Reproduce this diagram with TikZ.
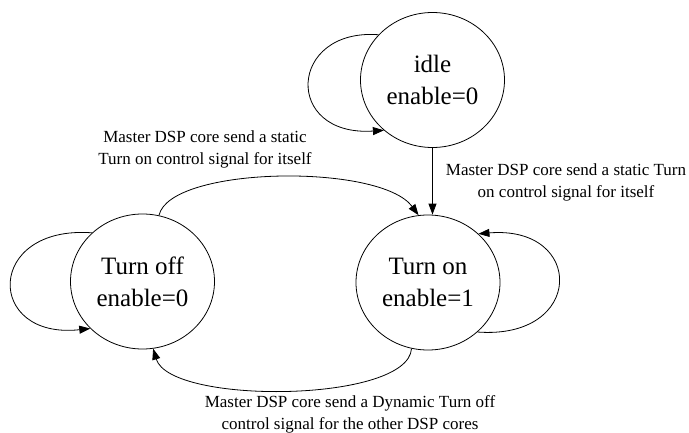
\documentclass[tikz,border=0pt]{standalone}
\usepackage{fontspec}
\setmainfont{Liberation Serif}
\usetikzlibrary{shapes.geometric,arrows.meta}
\tikzset{
  state/.style={draw, ellipse, line width=0.8pt, minimum width=144pt, minimum height=135pt,
    inner sep=0pt, align=center, font=\fontsize{25}{32}\selectfont},
  trans/.style={line width=0.8pt, -{Triangle[length=11pt,width=8pt]}},
  lbl/.style={align=center, inner sep=0pt, font=\fontsize{17}{22}\selectfont}
}
\begin{document}
\begin{tikzpicture}[x=1pt, y=-1pt]
\useasboundingbox (0,0) rectangle (689,432);

% states
\node[state] (idle) at (432.5,80) {idle\\enable=0};
\node[state] (on)   at (428,282.5) {Turn on\\enable=1};
\node[state] (off)  at (142.5,281.5) {Turn off\\enable=0};

% transition labels
\node[lbl] (l1) at (205,149) {Master DSP core send a static\\Turn on control signal for itself};
\node[lbl] (l2) at (566,182.5) {Master DSP core send a static Turn\\on control signal for itself};
\node[lbl] (l3) at (350,414) {Master DSP core send a Dynamic Turn off\\control signal for the other DSP cores};

% self loops
\draw[trans] (idle.140) .. controls (288,28) and (283,137) .. (idle.226);
\draw[trans] (off.136) .. controls (-15,225) and (-15,340) .. (off.222);
\draw[trans] (on.-45) .. controls (585,340) and (585,225) .. (on.44);

% transitions between states
\draw[trans] (idle.south) -- (idle.south |- on.north);
\draw[trans] (off.76) .. controls (170,166) and (380,163) .. (on.98);
\draw[trans] (on.256) .. controls (408,403) and (170,405) .. (off.279);
\end{tikzpicture}
\end{document}
